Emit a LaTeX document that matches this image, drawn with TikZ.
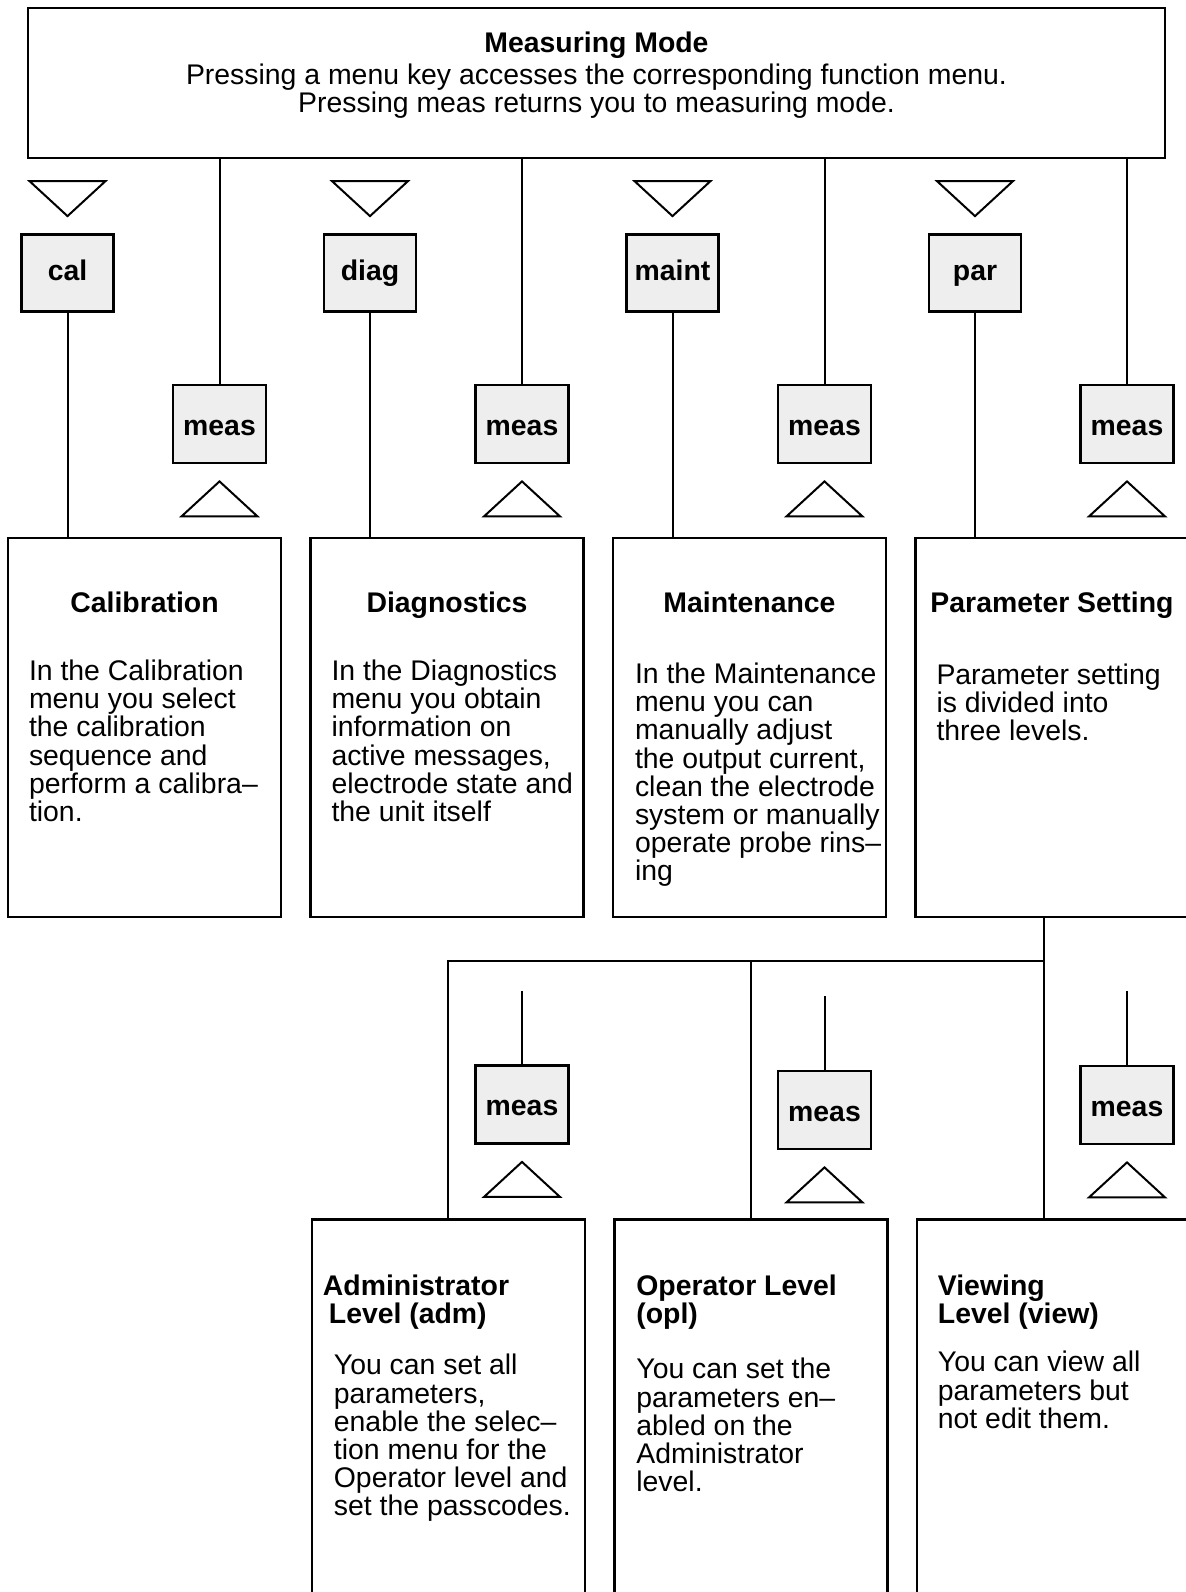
\documentclass[tikz,border=0pt]{standalone}
\usepackage{fontspec}
\setmainfont{Liberation Sans}
\usetikzlibrary{positioning}
\definecolor{KeyGray}{RGB}{238,238,238}
\newcommand\chartfont{\fontsize{14.2pt}{14.1pt}\selectfont}
\tikzset{
  frame/.style={draw, line width=1.4pt},
  mainbox/.style={frame, minimum width=568.5pt, minimum height=75pt},
  menubox/.style={frame, minimum width=136.5pt, minimum height=189.5pt, inner sep=0pt},
  levelbox/.style={frame, minimum width=136.5pt, minimum height=230pt, inner sep=0pt, anchor=north west},
  keybox/.style={frame, fill=KeyGray, minimum width=46pt, minimum height=38.5pt,
                 text height=10pt, text depth=3pt, font=\chartfont\bfseries},
  measbox/.style={keybox, minimum width=46.5pt, minimum height=39pt,
                  text height=12pt, text depth=0.8pt},
  boxtitle/.style={inner sep=0pt, align=left, font=\chartfont\bfseries},
  boxtext/.style={inner sep=0pt, align=left, anchor=north west, font=\chartfont},
  wire/.style={line width=1pt},
  tridown/.pic={\draw[wire] (-38,-17.5) -- (38,-17.5) -- (0,17.5) -- cycle;},
  triup/.pic={\draw[wire] (0,-17.5) -- (38,17.5) -- (-38,17.5) -- cycle;}
}

\begin{document}
\begin{tikzpicture}[x=0.5pt, y=-0.5pt]
\useasboundingbox (0,0) rectangle (1186,1592);
\clip (0,0) rectangle (1186,1592);

% measuring mode
\node[mainbox] (mm) at (596.5,83) {};
\node[boxtext, anchor=north, align=center, below=12.5pt of mm.north] (mmtext)
  {\textbf{Measuring Mode}\\[1.9pt]
   Pressing a menu key accesses the corresponding function menu.\\
   Pressing meas returns you to measuring mode.};

% one column per menu key
\foreach \n/\kx/\mx/\lbl/\ttl in {cal/67.5/219.5/cal/Calibration,
    diag/370/522/diag/Diagnostics, maint/672.5/824.5/maint/Maintenance,
    par/975/1127/par/Parameter Setting}{
  \node[keybox] (key\n) at (\kx,273) {\lbl};
  \node[measbox] (meas\n) at (\mx,424) {meas};
  \node[menubox] (box\n) at (\kx+77,727.5) {};
  \node[boxtitle, below=27.5pt of box\n.north] (title\n) {\ttl};
  \pic at ([yshift=17.25pt]key\n.north) {tridown};
  \pic at ([yshift=-17.25pt]meas\n.south) {triup};
  \draw[wire] (key\n.south) -- (key\n.south |- box\n.north);
  \draw[wire] (meas\n.north |- mm.south) -- (meas\n.north);
}

\node[boxtext, below right=61.5pt and 11pt of boxcal.north west] (textcal)
  {In the Calibration\\menu you select\\the calibration\\sequence and\\perform a calibra–\\tion.};
\node[boxtext, below right=61.5pt and 11pt of boxdiag.north west] (textdiag)
  {In the Diagnostics\\menu you obtain\\information on\\active messages,\\electrode state and\\the unit itself};
\node[boxtext, below right=63pt and 11.5pt of boxmaint.north west] (textmaint)
  {In the Maintenance\\menu you can\\manually adjust\\the output current,\\clean the electrode\\system or manually\\operate probe rins–\\ing};
\node[boxtext, below right=63.5pt and 11pt of boxpar.north west] (textpar)
  {Parameter setting\\is divided into\\three levels.};

% parameter levels
\node[levelbox] (boxadm) at (310.5,1218) {};
\node[levelbox] (boxopl) at (613,1218) {};
\node[levelbox] (boxview) at (915.5,1218) {};
\coordinate (split) at (1044,961);
\draw[wire] (boxpar.south -| split) -- (split) -- (split -| boxadm.north) -- (boxadm.north);
\draw[wire] (split -| boxopl.north) -- (boxopl.north);
\draw[wire] (split) -- (split |- boxview.north);

\foreach \n/\mx/\my/\top in {adm/522/1104.5/991, opl/824.5/1110/996, view/1127/1105/991}{
  \coordinate (free\n) at (\mx,\top);
  \node[measbox] (meas\n) at (\mx,\my) {meas};
  \draw[wire] (free\n) -- (meas\n.north);
  \pic at ([yshift=-17.25pt]meas\n.south) {triup};
}

\node[boxtitle, below right=28.25pt and 6pt of boxadm.north west] (titleadm)
  {Administrator\\\hspace{3pt}Level (adm)};
\node[boxtitle, below right=28.25pt and 11.5pt of boxopl.north west] (titleopl)
  {Operator Level\\(opl)};
\node[boxtitle, below right=28.25pt and 11pt of boxview.north west] (titleview)
  {Viewing\\Level (view)};
\node[boxtext, below right=68pt and 11.5pt of boxadm.north west] (textadm)
  {You can set all\\parameters,\\enable the selec–\\tion menu for the\\Operator level and\\set the passcodes.};
\node[boxtext, below right=70pt and 11.5pt of boxopl.north west] (textopl)
  {You can set the\\parameters en–\\abled on the\\Administrator\\level.};
\node[boxtext, below right=66.5pt and 11pt of boxview.north west] (textview)
  {You can view all\\parameters but\\not edit them.};
\end{tikzpicture}
\end{document}
